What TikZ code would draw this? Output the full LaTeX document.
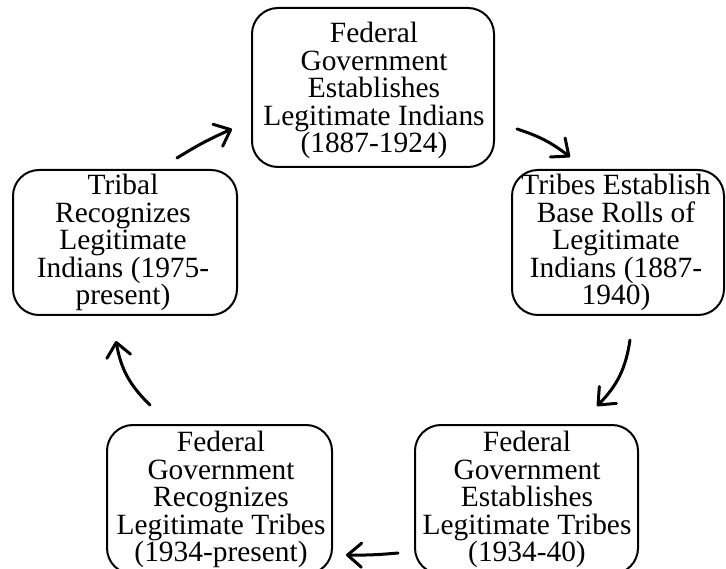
\documentclass[tikz,border=0pt]{standalone}
\usepackage{fontspec}
\setmainfont{Liberation Serif}
\usetikzlibrary{arrows.meta}
\begin{document}
\begin{tikzpicture}[x=1pt,y=1pt,
  stagebox/.style={draw=black, line width=2pt, rounded corners=26pt, inner sep=0pt},
  stagetext/.style={align=center, inner sep=0pt, font=\fontsize{29.4}{27.6}\selectfont},
  cyclearrow/.style={line width=3pt, line cap=round,
    -{Straight Barb[length=14pt, width=24pt, line width=3pt, round]}}]
  \useasboundingbox (0,0) rectangle (726,-569);
  \clip (0,0) rectangle (726,-569);

  % rounded frames of the five stages
  \node[stagebox, minimum width=242, minimum height=159] (n1) at (373,-87.5) {};
  \node[stagebox, minimum width=212, minimum height=145] (n2) at (618,-242.5) {};
  \node[stagebox, minimum width=223, minimum height=149] (n3) at (526.5,-499.5) {};
  \node[stagebox, minimum width=225, minimum height=149] (n4) at (219.5,-499.5) {};
  \node[stagebox, minimum width=224, minimum height=145] (n5) at (125,-242.5) {};

  % stage captions
  \node[stagetext] (t1) at (374,-90.6) {Federal\\Government\\Establishes\\Legitimate Indians\\(1887-1924)};
  \node[stagetext] (t2) at (616,-242.6) {Tribes Establish\\Base Rolls of\\Legitimate\\Indians (1887-\\1940)};
  \node[stagetext] (t3) at (527,-499.6) {Federal\\Government\\Establishes\\Legitimate Tribes\\(1934-40)};
  \node[stagetext] (t4) at (221,-499.6) {Federal\\Government\\Recognizes\\Legitimate Tribes\\(1934-present)};
  \node[stagetext] (t5) at (123,-242.6) {Tribal\\Recognizes\\Legitimate\\Indians (1975-\\present)};

  % arrow end points between the stages
  \coordinate (a1s) at (177,-158); \coordinate (a1e) at (232,-129);
  \coordinate (a2s) at (517,-129); \coordinate (a2e) at (570,-157);
  \coordinate (a3s) at (630,-340); \coordinate (a3e) at (597,-406);
  \coordinate (a4s) at (398,-553); \coordinate (a4e) at (346,-555);
  \coordinate (a5s) at (150,-405); \coordinate (a5e) at (116,-341);

  % cycle arrows
  \draw[cyclearrow] (a1s) to[bend left=4] (a1e);
  \draw[cyclearrow] (a2s) to[bend left=10] (a2e);
  \draw[cyclearrow] (a3s) to[bend left=18] (a3e);
  \draw[cyclearrow] (a4s) to[bend left=3] (a4e);
  \draw[cyclearrow] (a5s) to[bend left=18] (a5e);
\end{tikzpicture}
\end{document}
